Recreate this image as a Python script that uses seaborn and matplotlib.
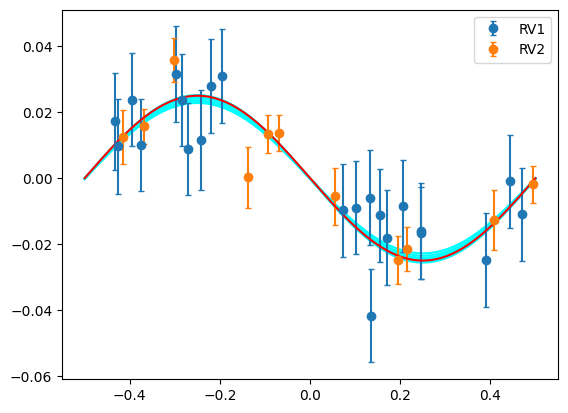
import numpy as np
import matplotlib
matplotlib.use("Agg")
import matplotlib.pyplot as plt
import seaborn as sns

# RV1 (blue)
phase1 = [-0.433, -0.426, -0.395, -0.375, -0.297, -0.285, -0.270, -0.242, -0.219, -0.195,
          0.072, 0.101, 0.133, 0.136, 0.154, 0.170, 0.207, 0.246, 0.247, 0.390, 0.444, 0.469]
rv1 = [0.0173, 0.0097, 0.0238, 0.0100, 0.0315, 0.0238, 0.0088, 0.0115, 0.0279, 0.0309,
       -0.0098, -0.0089, -0.0059, -0.0418, -0.0113, -0.0180, -0.0085, -0.0161, -0.0167, -0.0248, -0.0010, -0.0109]
err1 = [0.0147, 0.0144, 0.0141, 0.0140, 0.0145, 0.0140, 0.0140, 0.0151, 0.0142, 0.0143,
        0.0142, 0.0142, 0.0145, 0.0141, 0.0140, 0.0144, 0.0140, 0.0145, 0.0140, 0.0143, 0.0142, 0.0141]

# RV2 (orange)
phase2 = [-0.415, -0.368, -0.302, -0.137, -0.093, -0.068, 0.056, 0.196, 0.214, 0.407, 0.494]
rv2 = [0.0124, 0.0158, 0.0358, 0.0003, 0.0133, 0.0136, -0.0055, -0.0248, -0.0215, -0.0127, -0.0019]
err2 = [0.0082, 0.0053, 0.0066, 0.0093, 0.0058, 0.0055, 0.0086, 0.0073, 0.0066, 0.0092, 0.0055]

# model: best fit and a spread of sampled fits
k_best = 0.025
k_samples = [0.0228, 0.0233, 0.0238, 0.0242, 0.0246, 0.0250, 0.0254]
offset_samples = [0.0, -0.0002, -0.0003, -0.0001, -0.0002, 0.0, -0.0002]

grid = np.linspace(-0.5, 0.5, 300)

fig, ax = plt.subplots(figsize=(6.4, 4.8))

for k, off in zip(k_samples, offset_samples):
    sns.lineplot(x=grid, y=off - k * np.sin(2 * np.pi * grid), color="cyan", lw=1.5, ax=ax)

ax.errorbar(phase1, rv1, yerr=err1, fmt="o", capsize=2, label="RV1")
ax.errorbar(phase2, rv2, yerr=err2, fmt="o", capsize=2, label="RV2")

sns.lineplot(x=grid, y=-k_best * np.sin(2 * np.pi * grid), color="red", lw=1.5, ax=ax)

ax.legend(loc="upper right")
plt.savefig("out.png", dpi=100, bbox_inches="tight")
